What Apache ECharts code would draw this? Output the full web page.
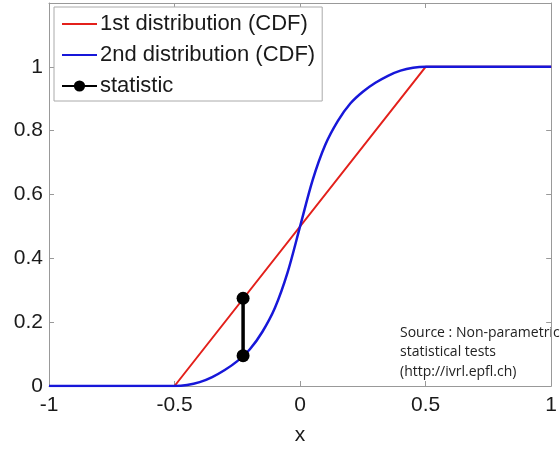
<!DOCTYPE html>
<html>
<head>
<meta charset="utf-8">
<script src="https://cdn.jsdelivr.net/npm/echarts@6/dist/echarts.min.js"></script>
<style>
  html, body { margin: 0; padding: 0; background: #fff; }
  #chart { width: 560px; height: 451px; }
</style>
</head>
<body>
<div id="chart"></div>
<script>
  // 1st distribution: uniform CDF on [-0.5, 0.5]
  var firstCdf = [[-1, 0], [-0.5, 0], [0.5, 1], [1, 1]];
  // 2nd distribution
  var secondCdf = [
    [-1, 0], [-0.5, 0], [-0.45, 0.003], [-0.4, 0.012], [-0.35, 0.028],
    [-0.3, 0.05], [-0.25, 0.078], [-0.2, 0.115], [-0.15, 0.17], [-0.1, 0.245],
    [-0.05, 0.355], [0, 0.5], [0.05, 0.645], [0.1, 0.755], [0.15, 0.83],
    [0.2, 0.885], [0.25, 0.922], [0.3, 0.95], [0.35, 0.972], [0.4, 0.988],
    [0.45, 0.997], [0.5, 1], [1, 1]
  ];
  // statistic: max gap between the two CDFs
  var statistic = [[-0.227, 0.275], [-0.227, 0.095]];
  var legendNames = ['1st distribution (CDF)', '2nd distribution (CDF)', 'statistic'];

  var chart = echarts.init(document.getElementById('chart'));
  var axisColor = '#999';
  var fontFamily = 'Liberation Sans, Arial, sans-serif';
  var labelFont = { color: '#1a1a1a', fontSize: 21, fontFamily: fontFamily };
  var tick = { show: true, inside: true, length: 5, lineStyle: { color: axisColor } };
  var line = { show: true, onZero: false, lineStyle: { color: axisColor } };

  chart.setOption({
    animation: false,
    grid: { left: 49, right: 4, top: 3, bottom: 62 },
    legend: {
      orient: 'vertical',
      left: 54,
      top: 7,
      padding: [6, 7, 4, 7],
      itemGap: 9,
      itemWidth: 35,
      itemHeight: 14,
      borderColor: '#aaa',
      borderWidth: 1,
      backgroundColor: '#fff',
      textStyle: { color: '#1a1a1a', fontSize: 22, fontFamily: fontFamily, padding: [0, 0, 0, -2] },
      data: [
        { name: legendNames[0], itemStyle: { opacity: 0 } },
        { name: legendNames[1], itemStyle: { opacity: 0 } },
        { name: legendNames[2] }
      ]
    },
    xAxis: [{
      type: 'value', min: -1, max: 1, interval: 0.5,
      name: 'x', nameLocation: 'middle', nameGap: 39,
      nameTextStyle: labelFont,
      axisLine: line,
      axisTick: tick,
      axisLabel: Object.assign({ margin: 9 }, labelFont),
      splitLine: { show: false }
    }, {
      type: 'value', min: -1, max: 1, interval: 0.5, position: 'top',
      axisLine: line,
      axisTick: tick,
      axisLabel: { show: false },
      splitLine: { show: false }
    }],
    yAxis: [{
      type: 'value', min: 0, max: 1.2, interval: 0.2,
      axisLine: line,
      axisTick: tick,
      axisLabel: Object.assign({ margin: 6, showMaxLabel: false }, labelFont),
      splitLine: { show: false }
    }, {
      type: 'value', min: 0, max: 1.2, interval: 0.2, position: 'right',
      axisLine: line,
      axisTick: tick,
      axisLabel: { show: false },
      splitLine: { show: false }
    }],
    series: [{
      name: legendNames[0],
      type: 'line',
      data: firstCdf,
      symbol: 'none',
      color: '#e3201b',
      lineStyle: { width: 2, color: '#e3201b' }
    }, {
      name: legendNames[1],
      type: 'line',
      data: secondCdf,
      symbol: 'none',
      smooth: 0.3,
      color: '#1717d9',
      lineStyle: { width: 2.5, color: '#1717d9' }
    }, {
      name: legendNames[2],
      type: 'line',
      data: statistic,
      symbol: 'circle',
      symbolSize: 13,
      color: '#000',
      itemStyle: { color: '#000' },
      lineStyle: { width: 3.5, color: '#000' }
    }],
    graphic: [{
      type: 'text',
      left: 400,
      top: 323,
      style: {
        text: 'Source : Non-parametric\nstatistical tests\n(http://ivrl.epfl.ch)',
        fontSize: 14,
        lineHeight: 19.5,
        fontFamily: 'Open Sans, sans-serif',
        fill: '#222'
      }
    }]
  });
</script>
</body>
</html>
